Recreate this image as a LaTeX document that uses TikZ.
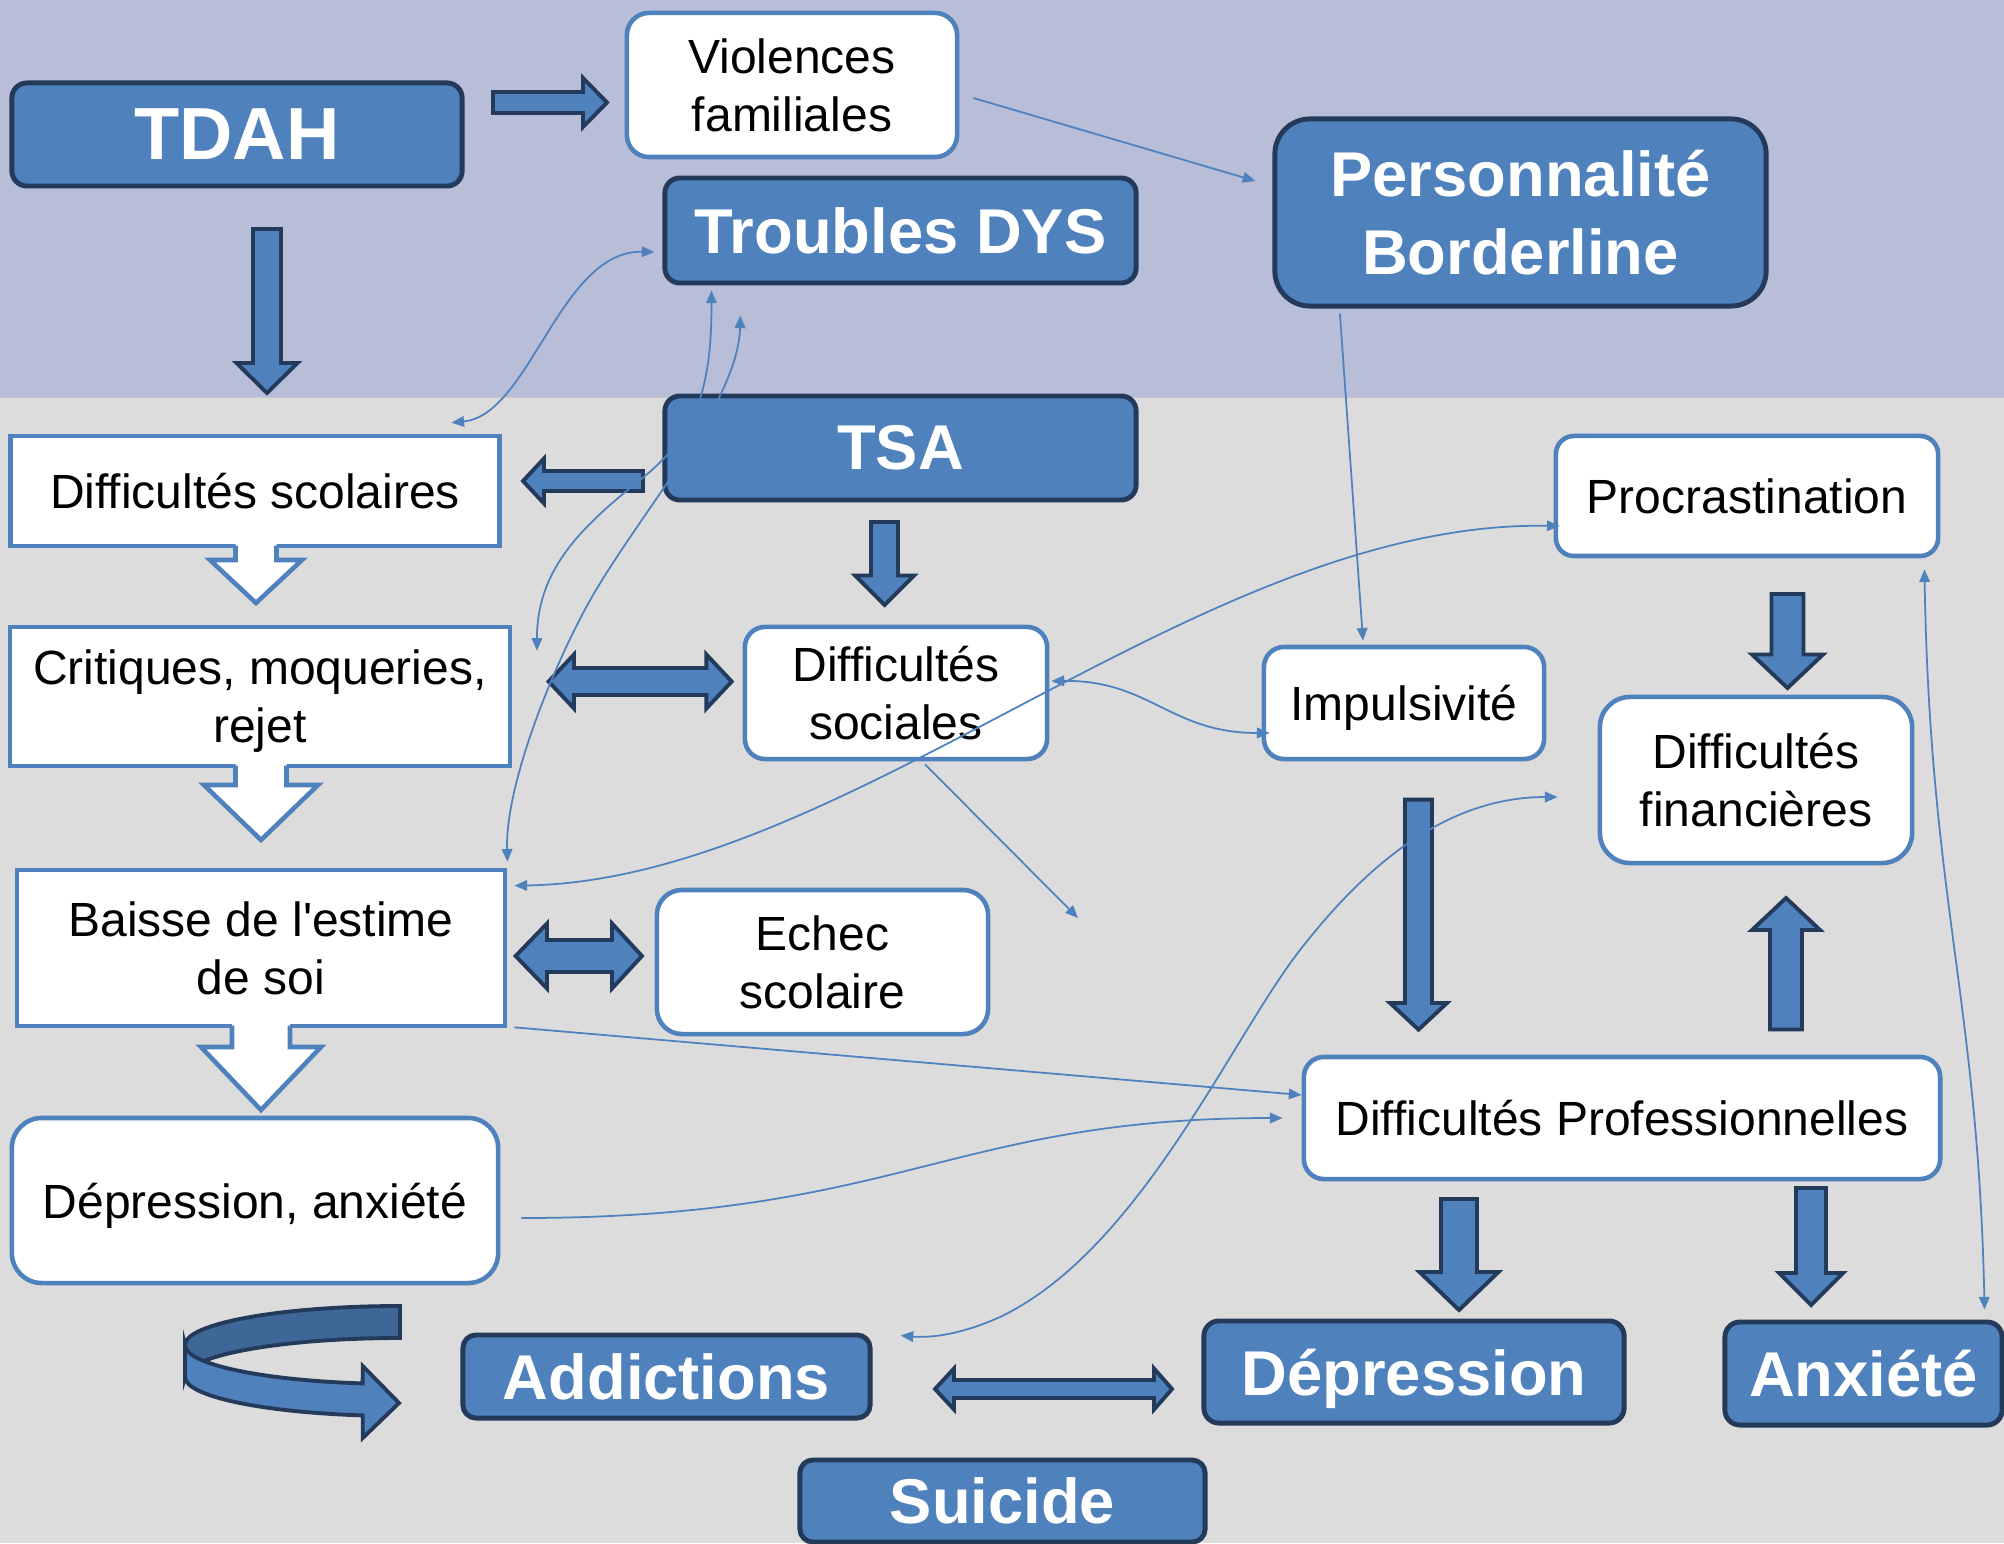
\documentclass[tikz,border=0pt]{standalone}
\usepackage{fontspec}
\setmainfont{Liberation Sans}
\newfontfamily\arialf{Liberation Sans}
\usetikzlibrary{arrows.meta,calc}
\definecolor{bandtop}{HTML}{B8BDD8}
\definecolor{bandlow}{HTML}{DCDCDC}
\definecolor{boxblue}{HTML}{4F81BD}
\definecolor{navy}{HTML}{233A5A}
\definecolor{backblue}{HTML}{3E6797}
\newcommand\myvarrow[7]{\draw[#1] ({#2-#6},#3) -- ({#2+#6},#3) -- ({#2+#6},#4) -- ({#2+#7},#4) -- (#2,#5) -- ({#2-#7},#4) -- ({#2-#6},#4) -- cycle;}
\newcommand\myharrow[7]{\draw[#1] (#3,{#2-#6}) -- (#4,{#2-#6}) -- (#4,{#2-#7}) -- (#5,#2) -- (#4,{#2+#7}) -- (#4,{#2+#6}) -- (#3,{#2+#6}) -- cycle;}
\newcommand\mydharrow[8]{\draw[#1] (#3,#2) -- (#4,{#2-#8}) -- (#4,{#2-#7}) -- (#5,{#2-#7}) -- (#5,{#2-#8}) -- (#6,#2) -- (#5,{#2+#8}) -- (#5,{#2+#7}) -- (#4,{#2+#7}) -- (#4,{#2+#8}) -- cycle;}
\newcommand\myhollow[6]{%
 \fill[white] ({#1-#5},{#2-4}) -- ({#1+#5},{#2-4}) -- ({#1+#5},#3) -- ({#1+#6},#3) -- (#1,#4) -- ({#1-#6},#3) -- ({#1-#5},#3) -- cycle;
 \draw[hollowline] ({#1-#5},{#2-0.5}) -- ({#1-#5},#3) -- ({#1-#6},#3) -- (#1,#4) -- ({#1+#6},#3) -- ({#1+#5},#3) -- ({#1+#5},{#2-0.5});}
\tikzset{
 darkbox/.style={draw=navy, fill=boxblue, line width=1.4pt, text=white, font=\arialf\fontsize{18}{22}\selectfont\bfseries, align=center, inner sep=0pt},
 whitebox/.style={draw=boxblue, fill=white, line width=1.3pt, text=black, font=\arialf\fontsize{13.65}{16.5}\selectfont, align=center, inner sep=0pt},
 nodepth/.style={text depth=0pt},
 blockarrow/.style={draw=navy, fill=boxblue, line width=1.1pt},
 hollowline/.style={draw=boxblue, line width=1.3pt},
 wire/.style={draw=boxblue, line width=0.5pt},
 onetip/.style={-{Triangle[length=3.6pt,width=3pt]}},
 twotips/.style={{Triangle[length=3.6pt,width=3pt]}-{Triangle[length=3.6pt,width=3pt]}},
 ubandback/.style={draw=navy, fill=backblue, line width=1.1pt},
 ubandfront/.style={draw=navy, fill=boxblue, line width=1.1pt},
}
\begin{document}
\begin{tikzpicture}[x=0.01cm,y=-0.01cm]
\useasboundingbox (0,0) rectangle (2004,1543);
\fill[bandlow] (0,0) rectangle (2004,1543);
\fill[bandtop] (0,0) rectangle (2004,397);
\draw[black!22, line width=0.4pt] (0,397.5) -- (2004,397.5);

% block arrows
\myharrow{blockarrow}{102.5}{493}{583}{607}{10.5}{24.5}
\myvarrow{blockarrow}{267}{229}{363}{393}{14}{30.5}
\myharrow{blockarrow}{481}{643}{544}{523}{10}{22.5}
\myvarrow{blockarrow}{884.5}{522}{575.5}{605}{13.5}{29.5}
\mydharrow{blockarrow}{681.5}{548.6}{574}{706.4}{731.7}{13.5}{27}
\mydharrow{blockarrow}{956}{515.6}{547}{612}{642}{16}{32.5}
\mydharrow{blockarrow}{1389}{935}{954}{1154}{1172}{9}{20.5}
\myvarrow{blockarrow}{1787.5}{594}{654.5}{688}{16}{35.5}
\myvarrow{blockarrow}{1786}{1029.5}{930}{898}{16}{34}
\myvarrow{blockarrow}{1418.5}{799.6}{1003}{1029.6}{13.5}{28.5}
\myvarrow{blockarrow}{1459}{1199}{1272}{1310}{18}{39.5}
\myvarrow{blockarrow}{1811}{1188}{1273}{1305}{15}{32}

% dark nodes
\node[darkbox, font=\arialf\fontsize{21}{25}\selectfont\bfseries, minimum width=4.5cm, minimum height=1.03cm, rounded corners=0.15cm] (tdah) at (237,134.5) {TDAH};
\node[darkbox, minimum width=4.71cm, minimum height=1.05cm, rounded corners=0.15cm] (dys) at (900.5,230.5) {Troubles DYS};
\node[darkbox, minimum width=4.91cm, minimum height=1.87cm, rounded corners=0.35cm] (bpd) at (1520.5,212.5) {Personnalité\\Borderline};
\node[darkbox, minimum width=4.71cm, minimum height=1.04cm, rounded corners=0.15cm] (tsa) at (900.5,448) {TSA};
\node[darkbox, minimum width=4.07cm, minimum height=0.83cm, rounded corners=0.13cm] (addic) at (666.5,1376.5) {Addictions};
\node[darkbox, minimum width=4.05cm, minimum height=0.82cm, rounded corners=0.13cm] (suic) at (1002.5,1501) {Suicide};
\node[darkbox, nodepth, minimum width=4.20cm, minimum height=1.02cm, rounded corners=0.15cm] (depr) at (1414,1372) {Dépression};
\node[darkbox, minimum width=2.77cm, minimum height=1.03cm, rounded corners=0.15cm] (anx) at (1863.5,1373.5) {Anxiété};

% white nodes
\node[whitebox, minimum width=3.30cm, minimum height=1.44cm, rounded corners=0.22cm] (viol) at (792,85) {Violences\\familiales};
\node[whitebox, minimum width=4.89cm, minimum height=1.10cm] (dscol) at (255,491) {Difficultés scolaires};
\node[whitebox, minimum width=5.00cm, minimum height=1.39cm] (crit) at (260,696.5) {Critiques, moqueries,\\\smash{rejet}};
\node[whitebox, minimum width=4.88cm, minimum height=1.56cm] (baisse) at (261,948) {Baisse de l'estime\\de soi};
\node[whitebox, nodepth, minimum width=4.86cm, minimum height=1.65cm, rounded corners=0.3cm] (depanx) at (255,1200.5) {Dépression, anxiété};
\node[whitebox, minimum width=3.02cm, minimum height=1.32cm, rounded corners=0.2cm] (dsoc) at (896,693) {Difficultés\\sociales};
\node[whitebox, minimum width=3.31cm, minimum height=1.44cm, rounded corners=0.25cm] (echec) at (822.5,962) {Echec\\scolaire};
\node[whitebox, minimum width=3.82cm, minimum height=1.20cm, rounded corners=0.18cm] (procr) at (1747,496) {Procrastination};
\node[whitebox, minimum width=3.12cm, minimum height=1.66cm, rounded corners=0.3cm] (dfin) at (1756,780) {Difficultés\\financières};
\node[whitebox, nodepth, minimum width=2.80cm, minimum height=1.12cm, rounded corners=0.2cm] (impuls) at (1404,703) {Impulsivité};
\node[whitebox, minimum width=6.36cm, minimum height=1.22cm, rounded corners=0.2cm] (dpro) at (1622,1118) {Difficultés Professionnelles};

% hollow arrows
\myhollow{256}{546}{560}{603}{20.5}{46}
\myhollow{261}{766}{785}{840}{25.5}{57}
\myhollow{261}{1026}{1047}{1110}{29}{60}

% U-turn arrow
\draw[ubandback] (400,1306) arc[start angle=270, end angle=180, x radius=215, y radius=39] -- (185,1377) arc[start angle=180, end angle=270, x radius=215, y radius=39] -- cycle;
\draw[ubandfront] (185,1345) arc[start angle=180, end angle=100, x radius=215, y radius=39] -- (362.7,1366) -- (399,1403) -- (362.7,1438) -- (362.7,1415.4) arc[start angle=100, end angle=180, x radius=215, y radius=39] -- cycle;

% thin connectors
\draw[wire,onetip] ($(viol.east)+(14,13)$) -- ($(bpd.west)+(-17,-31.5)$);
\draw[wire,onetip] ($(bpd.south west)+(67.5,5)$) -- ($(impuls.north)+(-41,-4)$);
\draw[wire,twotips] ($(dscol.north east)+(-50.5,-11)$) .. controls (530,415) and (560,250) .. ($(dys.west)+(-8,21.5)$);
\draw[wire,twotips] ($(dys.south west)+(49,5)$) .. controls (712,400) and (690,440) .. (640,480) .. controls (580,528) and (537,570) .. ($(crit.north east)+(24.5,26)$);
\draw[wire,twotips] ($(dys.south west)+(78,30)$) .. controls (738,400) and (650,500) .. (596,590) .. controls (560,650) and (505,780) .. ($(baisse.north east)+(0,-6)$);
\draw[wire,twotips] ($(baisse.north east)+(7,18)$) .. controls (850,880) and (1200,520) .. ($(procr.west)+(6,30)$);
\draw[wire,twotips] ($(dsoc.east)+(2,-12)$) .. controls (1150,680) and (1170,733) .. ($(impuls.west)+(8,30)$);
\coordinate (free1) at (1078,918);
\draw[wire,onetip] ($(dsoc.south)+(29,3)$) -- (free1);
\draw[wire,onetip] ($(baisse.south east)+(7,-1)$) -- ($(dpro.west)+(0,-23)$);
\draw[wire,onetip] ($(depanx.east)+(21,17.5)$) .. controls (900,1218) and (950,1118) .. ($(dpro.west)+(-19,0)$);
\draw[wire,twotips] ($(dfin.west)+(-40,17)$) .. controls (1450,797) and (1370,860) .. (1300,950) .. controls (1230,1040) and (1140,1250) .. (1000,1317) .. controls (960,1335) and (930,1338) .. ($(addic.north east)+(28,3)$);
\draw[wire,twotips] ($(procr.south east)+(-16,11)$) .. controls (1930,900) and (1978,1000) .. ($(anx.north east)+(-20,-10)$);
\end{tikzpicture}
\end{document}
